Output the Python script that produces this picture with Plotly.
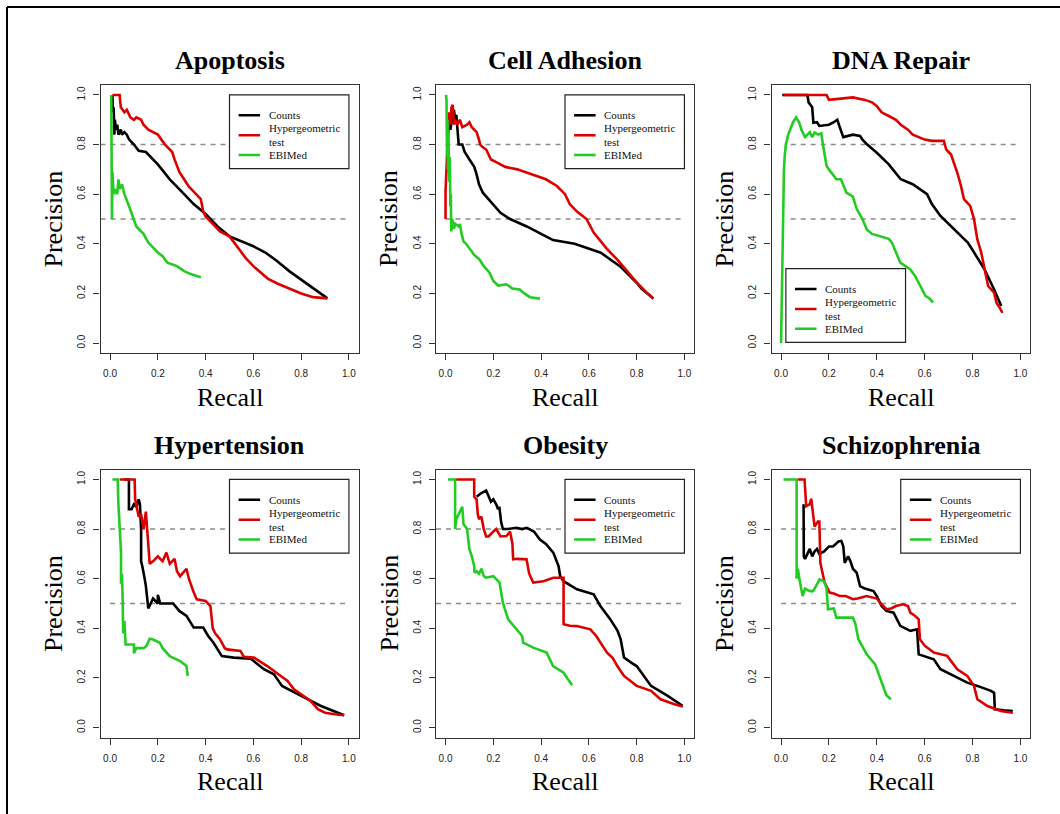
import plotly.graph_objects as go

W, H = 1060, 814

panel_titles = ["Apoptosis", "Cell Adhesion", "DNA Repair", "Hypertension", "Obesity", "Schizophrenia"]
series_names = ["Counts", "Hypergeometric<br>test", "EBIMed"]
series_colors = ["#000000", "#dd0000", "#22cc22"]
tick_vals = [0.0, 0.2, 0.4, 0.6, 0.8, 1.0]
tick_labels = ["0.0", "0.2", "0.4", "0.6", "0.8", "1.0"]
threshold_levels = [0.8, 0.5]

# (recall, precision) pairs
apoptosis_counts = [(0.01,1.0),(0.012,0.93),(0.015,0.95),(0.018,0.84),(0.02,0.9),(0.025,0.86),(0.03,0.88),(0.035,0.84),(0.045,0.86),(0.05,0.84),(0.06,0.85),(0.07,0.84),(0.08,0.82),(0.1,0.8),(0.12,0.775),(0.15,0.77),(0.2,0.72),(0.25,0.66),(0.3,0.61),(0.35,0.56),(0.4,0.52),(0.45,0.47),(0.5,0.43),(0.55,0.41),(0.6,0.39),(0.65,0.365),(0.7,0.33),(0.75,0.29),(0.8,0.255),(0.85,0.22),(0.91,0.18)]
apoptosis_hyper = [(0.01,1.0),(0.04,1.0),(0.045,0.95),(0.06,0.93),(0.07,0.94),(0.085,0.91),(0.1,0.9),(0.11,0.91),(0.13,0.9),(0.14,0.88),(0.16,0.86),(0.18,0.85),(0.2,0.84),(0.23,0.8),(0.26,0.77),(0.27,0.74),(0.29,0.69),(0.31,0.66),(0.33,0.63),(0.35,0.61),(0.38,0.58),(0.39,0.53),(0.4,0.51),(0.43,0.48),(0.46,0.45),(0.5,0.43),(0.53,0.39),(0.57,0.34),(0.6,0.31),(0.66,0.26),(0.7,0.24),(0.75,0.22),(0.8,0.2),(0.85,0.185),(0.91,0.18)]
apoptosis_ebimed = [(0.005,1.0),(0.005,0.67),(0.008,0.5),(0.01,0.69),(0.015,0.6),(0.02,0.62),(0.03,0.6),(0.035,0.66),(0.04,0.62),(0.05,0.64),(0.06,0.6),(0.08,0.55),(0.1,0.5),(0.11,0.47),(0.14,0.44),(0.16,0.405),(0.2,0.365),(0.22,0.35),(0.24,0.324),(0.28,0.31),(0.31,0.29),(0.34,0.277),(0.38,0.265)]

cell_counts = [(0.01,0.84),(0.015,0.91),(0.02,0.86),(0.025,0.9),(0.03,0.92),(0.035,0.94),(0.04,0.9),(0.045,0.92),(0.05,0.85),(0.055,0.8),(0.07,0.8),(0.08,0.77),(0.1,0.74),(0.12,0.71),(0.13,0.68),(0.14,0.64),(0.156,0.606),(0.18,0.58),(0.2,0.56),(0.22,0.54),(0.23,0.525),(0.27,0.5),(0.34,0.47),(0.42,0.43),(0.45,0.415),(0.54,0.4),(0.6,0.38),(0.65,0.364),(0.7,0.33),(0.73,0.31),(0.8,0.243),(0.82,0.22),(0.87,0.18)]
cell_hyper = [(0.0,0.5),(0.0,0.61),(0.006,0.75),(0.01,0.85),(0.015,0.93),(0.02,0.88),(0.025,0.95),(0.03,0.96),(0.035,0.88),(0.04,0.9),(0.05,0.88),(0.06,0.9),(0.07,0.87),(0.09,0.88),(0.1,0.89),(0.11,0.87),(0.13,0.85),(0.14,0.82),(0.145,0.8),(0.155,0.79),(0.17,0.78),(0.18,0.76),(0.19,0.74),(0.21,0.73),(0.25,0.71),(0.3,0.7),(0.34,0.687),(0.36,0.68),(0.42,0.66),(0.466,0.633),(0.48,0.62),(0.5,0.6),(0.52,0.56),(0.55,0.53),(0.59,0.5),(0.61,0.46),(0.62,0.445),(0.65,0.41),(0.677,0.378),(0.72,0.335),(0.747,0.304),(0.8,0.245),(0.84,0.205),(0.87,0.18)]
cell_ebimed = [(0.002,1.0),(0.004,0.98),(0.006,0.75),(0.008,0.9),(0.01,0.7),(0.012,0.85),(0.015,0.65),(0.018,0.75),(0.02,0.55),(0.022,0.6),(0.024,0.45),(0.028,0.5),(0.035,0.46),(0.04,0.48),(0.055,0.47),(0.06,0.48),(0.065,0.45),(0.075,0.41),(0.086,0.4),(0.1,0.38),(0.12,0.355),(0.142,0.337),(0.16,0.31),(0.184,0.284),(0.2,0.25),(0.22,0.232),(0.255,0.237),(0.28,0.22),(0.31,0.216),(0.33,0.2),(0.353,0.185),(0.395,0.179)]

dna_counts = [(0.005,1.0),(0.11,1.0),(0.115,0.97),(0.13,0.95),(0.135,0.888),(0.15,0.89),(0.16,0.875),(0.2,0.88),(0.22,0.89),(0.235,0.9),(0.245,0.87),(0.26,0.83),(0.3,0.84),(0.33,0.835),(0.34,0.82),(0.36,0.8),(0.4,0.767),(0.45,0.72),(0.5,0.66),(0.55,0.64),(0.61,0.6),(0.63,0.56),(0.666,0.512),(0.7,0.48),(0.75,0.435),(0.78,0.405),(0.8,0.375),(0.85,0.297),(0.89,0.216),(0.92,0.149)]
dna_hyper = [(0.01,1.0),(0.19,1.0),(0.2,0.98),(0.3,0.99),(0.35,0.98),(0.38,0.97),(0.4,0.955),(0.42,0.93),(0.45,0.915),(0.48,0.9),(0.5,0.88),(0.53,0.86),(0.55,0.84),(0.6,0.82),(0.63,0.815),(0.68,0.815),(0.69,0.78),(0.71,0.76),(0.736,0.687),(0.75,0.64),(0.764,0.58),(0.79,0.553),(0.806,0.5),(0.82,0.418),(0.835,0.37),(0.849,0.31),(0.865,0.23),(0.89,0.203),(0.9,0.163),(0.915,0.14),(0.925,0.122)]
dna_ebimed = [(0.0,0.0),(0.003,0.2),(0.006,0.5),(0.008,0.64),(0.012,0.7),(0.015,0.75),(0.02,0.8),(0.03,0.84),(0.04,0.87),(0.05,0.89),(0.063,0.909),(0.075,0.89),(0.085,0.86),(0.1,0.83),(0.11,0.84),(0.12,0.85),(0.13,0.83),(0.14,0.848),(0.155,0.84),(0.168,0.845),(0.175,0.8),(0.19,0.714),(0.2,0.7),(0.231,0.66),(0.25,0.66),(0.273,0.606),(0.3,0.59),(0.316,0.54),(0.34,0.5),(0.358,0.458),(0.38,0.44),(0.414,0.43),(0.45,0.42),(0.463,0.405),(0.498,0.324),(0.54,0.297),(0.56,0.27),(0.582,0.23),(0.603,0.19),(0.62,0.18),(0.635,0.163)]

hyp_counts = [(0.06,1.0),(0.079,1.0),(0.079,0.88),(0.09,0.88),(0.1,0.9),(0.11,0.89),(0.12,0.92),(0.125,0.9),(0.13,0.8),(0.13,0.67),(0.135,0.65),(0.14,0.63),(0.145,0.6),(0.15,0.57),(0.155,0.52),(0.16,0.48),(0.17,0.5),(0.18,0.52),(0.2,0.5),(0.2,0.535),(0.21,0.5),(0.264,0.5),(0.29,0.47),(0.32,0.45),(0.35,0.403),(0.39,0.403),(0.41,0.37),(0.433,0.342),(0.468,0.288),(0.518,0.282),(0.588,0.278),(0.644,0.235),(0.686,0.215),(0.72,0.168),(0.8,0.128),(0.883,0.087),(0.98,0.05)]
hyp_hyper = [(0.04,1.0),(0.103,1.0),(0.105,0.92),(0.11,0.9),(0.12,0.85),(0.13,0.86),(0.14,0.8),(0.15,0.87),(0.155,0.79),(0.16,0.72),(0.166,0.66),(0.18,0.67),(0.2,0.69),(0.22,0.67),(0.236,0.705),(0.25,0.66),(0.27,0.68),(0.28,0.63),(0.293,0.61),(0.32,0.64),(0.33,0.6),(0.35,0.545),(0.363,0.517),(0.4,0.51),(0.42,0.49),(0.43,0.4),(0.44,0.38),(0.46,0.356),(0.48,0.32),(0.49,0.315),(0.546,0.309),(0.56,0.285),(0.602,0.282),(0.658,0.248),(0.7,0.22),(0.743,0.188),(0.77,0.154),(0.84,0.107),(0.87,0.074),(0.9,0.06),(0.94,0.054),(0.98,0.05)]
hyp_ebimed = [(0.01,1.0),(0.032,1.0),(0.035,0.9),(0.04,0.8),(0.046,0.705),(0.046,0.58),(0.05,0.62),(0.053,0.5),(0.055,0.38),(0.06,0.43),(0.065,0.335),(0.1,0.335),(0.1,0.3),(0.11,0.32),(0.14,0.32),(0.152,0.329),(0.166,0.358),(0.18,0.355),(0.208,0.342),(0.22,0.32),(0.25,0.288),(0.293,0.268),(0.32,0.248),(0.325,0.208)]

obs_counts = [(0.13,0.93),(0.15,0.945),(0.17,0.955),(0.18,0.93),(0.19,0.91),(0.2,0.92),(0.212,0.9),(0.22,0.88),(0.225,0.89),(0.233,0.826),(0.24,0.8),(0.26,0.8),(0.297,0.805),(0.32,0.8),(0.34,0.805),(0.37,0.79),(0.395,0.758),(0.42,0.74),(0.451,0.705),(0.473,0.651),(0.48,0.61),(0.494,0.59),(0.55,0.557),(0.62,0.537),(0.648,0.49),(0.69,0.436),(0.72,0.39),(0.733,0.356),(0.747,0.282),(0.78,0.26),(0.8,0.248),(0.86,0.168),(0.93,0.128),(0.993,0.087)]
obs_hyper = [(0.04,1.0),(0.12,1.0),(0.12,0.93),(0.13,0.92),(0.135,0.86),(0.14,0.84),(0.15,0.85),(0.16,0.8),(0.17,0.77),(0.18,0.77),(0.2,0.79),(0.212,0.8),(0.23,0.77),(0.255,0.772),(0.27,0.79),(0.28,0.74),(0.283,0.678),(0.3,0.68),(0.339,0.678),(0.35,0.62),(0.367,0.584),(0.41,0.59),(0.451,0.604),(0.494,0.604),(0.494,0.416),(0.52,0.41),(0.55,0.409),(0.606,0.396),(0.63,0.37),(0.648,0.342),(0.676,0.302),(0.7,0.28),(0.719,0.248),(0.747,0.208),(0.77,0.19),(0.8,0.168),(0.86,0.148),(0.9,0.114),(0.958,0.094),(0.993,0.085)]
obs_ebimed = [(0.01,1.0),(0.04,1.0),(0.04,0.8),(0.045,0.84),(0.05,0.85),(0.06,0.87),(0.07,0.89),(0.075,0.82),(0.09,0.8),(0.1,0.718),(0.11,0.69),(0.12,0.65),(0.121,0.624),(0.13,0.63),(0.14,0.62),(0.15,0.64),(0.16,0.61),(0.17,0.604),(0.2,0.61),(0.226,0.584),(0.24,0.503),(0.262,0.436),(0.297,0.396),(0.32,0.37),(0.325,0.342),(0.367,0.322),(0.423,0.302),(0.45,0.248),(0.494,0.221),(0.53,0.17)]

sch_counts = [(0.094,0.9),(0.095,0.69),(0.1,0.68),(0.11,0.7),(0.12,0.72),(0.13,0.69),(0.14,0.71),(0.15,0.72),(0.16,0.7),(0.18,0.71),(0.2,0.73),(0.217,0.73),(0.24,0.75),(0.252,0.752),(0.26,0.73),(0.266,0.664),(0.28,0.69),(0.29,0.67),(0.3,0.64),(0.316,0.624),(0.33,0.57),(0.35,0.56),(0.386,0.55),(0.4,0.53),(0.42,0.49),(0.44,0.47),(0.47,0.463),(0.498,0.41),(0.54,0.39),(0.568,0.396),(0.575,0.295),(0.638,0.275),(0.666,0.235),(0.722,0.208),(0.778,0.181),(0.82,0.168),(0.877,0.148),(0.89,0.14),(0.893,0.074),(0.93,0.07),(0.968,0.067)]
sch_hyper = [(0.07,1.0),(0.098,1.0),(0.105,0.892),(0.12,0.9),(0.126,0.922),(0.14,0.81),(0.154,0.83),(0.16,0.83),(0.164,0.664),(0.182,0.584),(0.203,0.544),(0.22,0.54),(0.245,0.53),(0.27,0.53),(0.3,0.517),(0.32,0.52),(0.357,0.53),(0.4,0.52),(0.414,0.503),(0.44,0.477),(0.46,0.48),(0.48,0.49),(0.51,0.497),(0.53,0.49),(0.54,0.463),(0.56,0.45),(0.575,0.436),(0.58,0.356),(0.6,0.33),(0.638,0.302),(0.694,0.289),(0.736,0.235),(0.778,0.208),(0.806,0.168),(0.82,0.114),(0.862,0.087),(0.918,0.067),(0.968,0.06)]
sch_ebimed = [(0.01,1.0),(0.065,1.0),(0.065,0.6),(0.07,0.64),(0.077,0.597),(0.09,0.53),(0.1,0.56),(0.12,0.55),(0.133,0.55),(0.14,0.56),(0.161,0.597),(0.18,0.59),(0.19,0.56),(0.196,0.477),(0.22,0.48),(0.231,0.443),(0.3,0.443),(0.31,0.42),(0.323,0.356),(0.358,0.295),(0.393,0.255),(0.42,0.181),(0.44,0.13),(0.459,0.114)]

panel_series = [
    [apoptosis_counts, apoptosis_hyper, apoptosis_ebimed],
    [cell_counts, cell_hyper, cell_ebimed],
    [dna_counts, dna_hyper, dna_ebimed],
    [hyp_counts, hyp_hyper, hyp_ebimed],
    [obs_counts, obs_hyper, obs_ebimed],
    [sch_counts, sch_hyper, sch_ebimed],
]

# ---------------- layout geometry (pixels) ----------------
col_px = [(100.5, 358.5), (436.0, 694.0), (771.5, 1030.0)]
row_px = [(85.0, 353.0), (469.5, 737.5)]
legend_anchor = [(0.5, 1.0), (0.5, 1.0), (0.02, 0.3), (0.5, 1.0), (0.5, 1.0), (0.5, 1.0)]
dash_start = [-0.04, 0.0, 0.04, 0.0, -0.04, 0.0]

def fx(p):
    return p / W

def fy(p):
    return 1 - p / H

serif = "Liberation Serif, Times New Roman, serif"
sans = "Liberation Sans, Arial, sans-serif"
axis_col = "#333333"

fig = go.Figure()
shapes = []
annotations = []
layout = dict(
    width=W, height=H, autosize=False,
    margin=dict(l=0, r=0, t=0, b=0),
    paper_bgcolor="white", plot_bgcolor="white",
    showlegend=False,
)

for i in range(6):
    r, c = divmod(i, 3)
    n = "" if i == 0 else str(i + 1)
    x0p, x1p = col_px[c]
    y0p, y1p = row_px[r]
    xa, ya = "x" + n, "y" + n
    common = dict(
        range=[-0.04, 1.04], tickvals=tick_vals, ticktext=tick_labels,
        ticks="outside", ticklen=6, tickwidth=1.2, tickcolor=axis_col,
        showline=True, mirror=True, linecolor=axis_col, linewidth=1.3,
        showgrid=False, zeroline=False, fixedrange=True,
        tickfont=dict(family=sans, size=10, color="#222222"),
    )
    layout["xaxis" + n] = dict(common, domain=[fx(x0p), fx(x1p)], anchor=ya, ticklabelstandoff=5)
    layout["yaxis" + n] = dict(common, domain=[fy(y1p), fy(y0p)], anchor=xa, tickangle=-90, ticklabelstandoff=4)

    # threshold lines
    for lvl in threshold_levels:
        shapes.append(dict(type="line", xref=xa, yref=ya, x0=dash_start[i], x1=1.0, y0=lvl, y1=lvl,
                           line=dict(color="#8c8c8c", width=1.5, dash="5px,5px"), layer="below"))

    # curves
    for s, pts in enumerate(panel_series[i]):
        rec = [p[0] for p in pts]
        prec = [p[1] for p in pts]
        fig.add_trace(go.Scatter(x=rec, y=prec, mode="lines", xaxis=xa, yaxis=ya,
                                 name=series_names[s].replace("<br>", " "),
                                 line=dict(color=series_colors[s], width=2.6)))

    # legend (drawn in data units, like R's legend())
    lx, ly = legend_anchor[i]
    shapes.append(dict(type="rect", xref=xa, yref=ya, x0=lx, x1=lx + 0.5, y0=ly - 0.297, y1=ly,
                       line=dict(color="#222222", width=1.2), fillcolor="white", layer="above"))
    item_y = [ly - 0.082, ly - 0.1625, ly - 0.242]
    for s in range(3):
        shapes.append(dict(type="line", xref=xa, yref=ya, x0=lx + 0.038, x1=lx + 0.128,
                           y0=item_y[s], y1=item_y[s], line=dict(color=series_colors[s], width=2.6),
                           layer="above"))
        annotations.append(dict(xref=xa, yref=ya, x=lx + 0.156, y=item_y[s], text=series_names[s],
                                showarrow=False, xanchor="left", yanchor="middle", align="left",
                                font=dict(family=serif, size=11, color="#111111")))

    # panel title and axis titles
    cx = fx((x0p + x1p) / 2)
    annotations.append(dict(xref="paper", yref="paper", x=cx, y=fy(y0p - 24), text="<b>%s</b>" % panel_titles[i],
                            showarrow=False, xanchor="center", yanchor="middle",
                            font=dict(family=serif, size=26, color="black")))
    annotations.append(dict(xref="paper", yref="paper", x=cx, y=fy(y1p + 44), text="Recall",
                            showarrow=False, xanchor="center", yanchor="middle",
                            font=dict(family=serif, size=26, color="black")))
    annotations.append(dict(xref="paper", yref="paper", x=fx(x0p - 47), y=fy((y0p + y1p) / 2), text="Precision",
                            showarrow=False, xanchor="center", yanchor="middle", textangle=-90,
                            font=dict(family=serif, size=26, color="black")))

# outer frame (top and left edges)
shapes.append(dict(type="line", xref="paper", yref="paper", x0=fx(7), x1=1.0, y0=fy(7), y1=fy(7),
                   line=dict(color="black", width=2)))
shapes.append(dict(type="line", xref="paper", yref="paper", x0=fx(7), x1=fx(7), y0=fy(7), y1=0.0,
                   line=dict(color="black", width=2)))

layout["shapes"] = shapes
layout["annotations"] = annotations
fig.update_layout(**layout)
fig.write_html("out.html", config={"displayModeBar": False},
               post_script="document.body.style.margin='0px';document.body.style.overflow='hidden';")
